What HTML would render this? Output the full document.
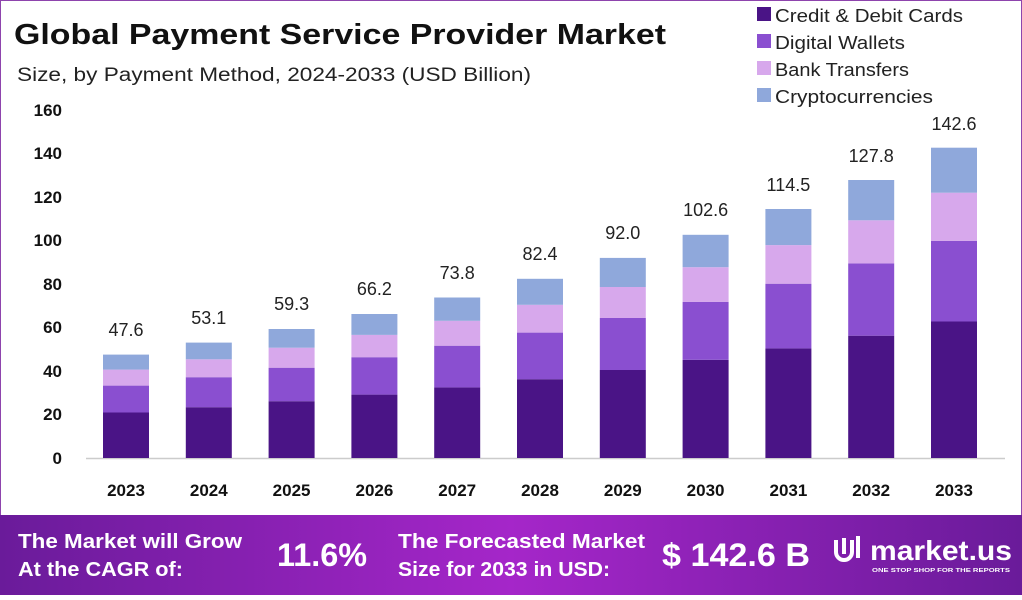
<!DOCTYPE html>
<html><head><meta charset="utf-8"><style>
html,body{margin:0;padding:0;background:#fff}
body{width:1022px;height:595px;overflow:hidden;font-family:"Liberation Sans",sans-serif}
</style></head><body>
<svg width="1022" height="595" viewBox="0 0 1022 595" xmlns="http://www.w3.org/2000/svg" font-family="Liberation Sans, sans-serif">
<defs>
<linearGradient id="bg" x1="0" x2="1" y1="0" y2="0">
<stop offset="0" stop-color="#6a1b9a"/><stop offset="0.5" stop-color="#a526c9"/><stop offset="1" stop-color="#6a1b9a"/>
</linearGradient>
</defs>
<rect x="0.5" y="0.5" width="1021" height="594" fill="#fff" stroke="#8e44ad"/>
<text x="14" y="44" font-size="29" font-weight="bold" fill="#111" textLength="652" lengthAdjust="spacingAndGlyphs">Global Payment Service Provider Market</text>
<text x="17" y="81" font-size="19" fill="#222" textLength="514" lengthAdjust="spacingAndGlyphs">Size, by Payment Method, 2024-2033 (USD Billion)</text>
<g font-size="18" fill="#222">
<rect x="757" y="7" width="14" height="14" fill="#4a1486"/><text x="775" y="22" textLength="188" lengthAdjust="spacingAndGlyphs">Credit &amp; Debit Cards</text>
<rect x="757" y="34" width="14" height="14" fill="#8a4fd0"/><text x="775" y="49" textLength="130" lengthAdjust="spacingAndGlyphs">Digital Wallets</text>
<rect x="757" y="61" width="14" height="14" fill="#d7a8ec"/><text x="775" y="76" textLength="134" lengthAdjust="spacingAndGlyphs">Bank Transfers</text>
<rect x="757" y="88" width="14" height="14" fill="#8fa8db"/><text x="775" y="103" textLength="158" lengthAdjust="spacingAndGlyphs">Cryptocurrencies</text>
</g>
<g font-size="17" font-weight="bold" fill="#111" text-anchor="end">
<text x="62" y="464">0</text><text x="62" y="420">20</text><text x="62" y="377">40</text><text x="62" y="333">60</text>
<text x="62" y="290">80</text><text x="62" y="246">100</text><text x="62" y="203">120</text><text x="62" y="159">140</text><text x="62" y="116">160</text>
</g>
<line x1="86" y1="458.5" x2="1005" y2="458.5" stroke="#ccc" stroke-width="1.5"/>
<g>
<rect x="103" y="412.5" width="46" height="45.5" fill="#4a1486"/><rect x="103" y="385.6" width="46" height="26.9" fill="#8a4fd0"/><rect x="103" y="369.6" width="46" height="16" fill="#d7a8ec"/><rect x="103" y="354.6" width="46" height="15" fill="#8fa8db"/>
<rect x="185.8" y="407.2" width="46" height="50.8" fill="#4a1486"/><rect x="185.8" y="377.2" width="46" height="30" fill="#8a4fd0"/><rect x="185.8" y="359.3" width="46" height="17.9" fill="#d7a8ec"/><rect x="185.8" y="342.6" width="46" height="16.7" fill="#8fa8db"/>
<rect x="268.6" y="401.2" width="46" height="56.8" fill="#4a1486"/><rect x="268.6" y="367.7" width="46" height="33.5" fill="#8a4fd0"/><rect x="268.6" y="347.7" width="46" height="20" fill="#d7a8ec"/><rect x="268.6" y="329" width="46" height="18.7" fill="#8fa8db"/>
<rect x="351.4" y="394.6" width="46" height="63.4" fill="#4a1486"/><rect x="351.4" y="357.2" width="46" height="37.4" fill="#8a4fd0"/><rect x="351.4" y="334.9" width="46" height="22.3" fill="#d7a8ec"/><rect x="351.4" y="314" width="46" height="20.9" fill="#8fa8db"/>
<rect x="434.2" y="387.4" width="46" height="70.6" fill="#4a1486"/><rect x="434.2" y="345.7" width="46" height="41.7" fill="#8a4fd0"/><rect x="434.2" y="320.8" width="46" height="24.9" fill="#d7a8ec"/><rect x="434.2" y="297.5" width="46" height="23.3" fill="#8fa8db"/>
<rect x="517" y="379.2" width="46" height="78.8" fill="#4a1486"/><rect x="517" y="332.6" width="46" height="46.6" fill="#8a4fd0"/><rect x="517" y="304.8" width="46" height="27.8" fill="#d7a8ec"/><rect x="517" y="278.8" width="46" height="26" fill="#8fa8db"/>
<rect x="599.8" y="370" width="46" height="88" fill="#4a1486"/><rect x="599.8" y="318" width="46" height="52" fill="#8a4fd0"/><rect x="599.8" y="287" width="46" height="31" fill="#d7a8ec"/><rect x="599.8" y="257.9" width="46" height="29.1" fill="#8fa8db"/>
<rect x="682.6" y="359.8" width="46" height="98.2" fill="#4a1486"/><rect x="682.6" y="301.8" width="46" height="58" fill="#8a4fd0"/><rect x="682.6" y="267.2" width="46" height="34.6" fill="#d7a8ec"/><rect x="682.6" y="234.8" width="46" height="32.4" fill="#8fa8db"/>
<rect x="765.4" y="348.4" width="46" height="109.6" fill="#4a1486"/><rect x="765.4" y="283.7" width="46" height="64.7" fill="#8a4fd0"/><rect x="765.4" y="245.1" width="46" height="38.6" fill="#d7a8ec"/><rect x="765.4" y="209" width="46" height="36.1" fill="#8fa8db"/>
<rect x="848.2" y="335.7" width="46" height="122.3" fill="#4a1486"/><rect x="848.2" y="263.4" width="46" height="72.3" fill="#8a4fd0"/><rect x="848.2" y="220.3" width="46" height="43.1" fill="#d7a8ec"/><rect x="848.2" y="180" width="46" height="40.3" fill="#8fa8db"/>
<rect x="931" y="321.5" width="46" height="136.5" fill="#4a1486"/><rect x="931" y="240.8" width="46" height="80.7" fill="#8a4fd0"/><rect x="931" y="192.7" width="46" height="48.1" fill="#d7a8ec"/><rect x="931" y="147.7" width="46" height="45" fill="#8fa8db"/>
</g>
<g font-size="18" fill="#222" text-anchor="middle">
<text x="126" y="336">47.6</text><text x="208.8" y="324">53.1</text><text x="291.6" y="310">59.3</text><text x="374.4" y="295">66.2</text>
<text x="457.2" y="279">73.8</text><text x="540" y="260">82.4</text><text x="622.8" y="239">92.0</text><text x="705.6" y="216">102.6</text>
<text x="788.4" y="191">114.5</text><text x="871.2" y="162">127.8</text><text x="954" y="130">142.6</text>
</g>
<g font-size="17" font-weight="bold" fill="#111" text-anchor="middle">
<text x="126" y="496">2023</text><text x="208.8" y="496">2024</text><text x="291.6" y="496">2025</text><text x="374.4" y="496">2026</text>
<text x="457.2" y="496">2027</text><text x="540" y="496">2028</text><text x="622.8" y="496">2029</text><text x="705.6" y="496">2030</text>
<text x="788.4" y="496">2031</text><text x="871.2" y="496">2032</text><text x="954" y="496">2033</text>
</g>
<rect x="0" y="515" width="1022" height="80" fill="url(#bg)"/>
<g fill="#fff" font-weight="bold">
<text x="18" y="548" font-size="20" textLength="224" lengthAdjust="spacingAndGlyphs">The Market will Grow</text>
<text x="18" y="576" font-size="20" textLength="165" lengthAdjust="spacingAndGlyphs">At the CAGR of:</text>
<text x="277" y="566" font-size="32" textLength="90" lengthAdjust="spacingAndGlyphs">11.6%</text>
<text x="398" y="548" font-size="20" textLength="247" lengthAdjust="spacingAndGlyphs">The Forecasted Market</text>
<text x="398" y="576" font-size="20" textLength="212" lengthAdjust="spacingAndGlyphs">Size for 2033 in USD:</text>
<text x="662" y="566" font-size="32" textLength="148" lengthAdjust="spacingAndGlyphs">$ 142.6 B</text>
<text x="870" y="560" font-size="28" textLength="142" lengthAdjust="spacingAndGlyphs">market.us</text>
<text x="872" y="572" font-size="5" textLength="138" lengthAdjust="spacingAndGlyphs">ONE STOP SHOP FOR THE REPORTS</text>
<path d="M836 540 v12 a8 8 0 0 0 16 0 v-12 M844 538 v16 M858 536 v22" stroke="#fff" stroke-width="4" fill="none"/>
</g>
</svg>
</body></html>
